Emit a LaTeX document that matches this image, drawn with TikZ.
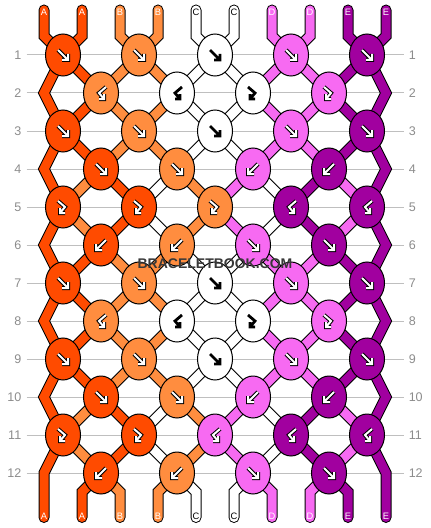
\documentclass[tikz,border=0pt]{standalone}
\usepackage{fontspec}
\setmainfont{Liberation Sans}
\usetikzlibrary{shapes.geometric}

\definecolor{cA}{HTML}{FF4B00}
\definecolor{cB}{HTML}{FF8D3F}
\definecolor{cC}{HTML}{FFFFFF}
\definecolor{cD}{HTML}{F76AF2}
\definecolor{cE}{HTML}{A1009F}

\pgfdeclarelayer{strands}
\pgfsetlayers{strands,main}

\tikzset{
  knot/.style={ellipse, draw=black, line width=0.75pt, minimum width=26.25pt, minimum height=31.5pt, inner sep=0pt},
  rim/.style={draw=black, line width=8.25pt, line cap=round},
  thread/.style={draw=#1, line width=6.75pt, line cap=round},
  rowline/.style={draw=black!25, line width=0.75pt, shorten <=3.75pt, shorten >=3.75pt},
  rownum/.style={text=black!45, font=\fontsize{9.4}{10}\selectfont, inner sep=0pt},
  endlabel/.style={font=\fontsize{7}{8}\selectfont, inner sep=0pt},
  arrowrim/.style={draw=black, line width=3pt, line join=miter},
  arrowink/.style={draw=#1, line width=1.5pt, line join=miter},
  darkink/.style={draw=black, line width=2.1pt, line join=miter},
  arrf/.style={insert path={(-5,-5) -- (5,5) (-1,5) -- (5,5) -- (5,-1)}},
  arrb/.style={insert path={(5,-5) -- (-5,5) (1,5) -- (-5,5) -- (-5,-1)}},
  arrfb/.style={insert path={(-5,-6) -- (2,0) -- (-3,6) (2,6) -- (-3,6) -- (-3,1)}},
  arrbf/.style={insert path={(5,-6) -- (-2,0) -- (3,6) (-2,6) -- (3,6) -- (3,1)}},
}

\def\blackink{black}

% knot: row, index, fill, arrow, ink
\newcommand\putknot[5]{%
  \pgfmathsetmacro\kx{63+76*#2+38*(1-mod(#1,2))}
  \pgfmathsetmacro\ky{55+38*(#1-1)}
  \node[knot, fill=#3] (k#1-#2) at (\kx,\ky) {};
  \edef\thisink{#5}%
  \ifx\thisink\blackink
    \path[darkink, shift={(k#1-#2.center)}] [#4];
  \else
    \path[arrowrim, shift={(k#1-#2.center)}] [#4];
    \path[arrowink=#5, shift={(k#1-#2.center)}] [#4];
  \fi
}

% strands between row #2 and the next one, positions 1..8
\newcommand\strandrow[3]{%
  \pgfmathtruncatemacro\rn{#2+1}
  \foreach \col [count=\p] in {#3} {
    \pgfmathtruncatemacro\ka{mod(#2,2)==1 ? floor(\p/2) : floor((\p-1)/2)}
    \pgfmathtruncatemacro\kb{mod(#2,2)==1 ? floor((\p-1)/2) : floor(\p/2)}
    \draw[#1=\col] (k#2-\ka.center) -- (k\rn-\kb.center);
  }}

\newcommand\strandpass[1]{%
  \foreach \col [count=\p from 0] in {cA,cA,cB,cB,cC,cC,cD,cD,cE,cE} {
    \pgfmathtruncatemacro\kn{floor(\p/2)}
    \draw[#1=\col] (t\p) -- (tk\p) -- (k1-\kn.center);
  }
  \foreach \col [count=\p] in {cA,cB,cB,cC,cC,cD,cD,cE} {
    \pgfmathtruncatemacro\kn{floor((\p-1)/2)}
    \draw[#1=\col] (k12-\kn.center) -- (bk\p) -- (b\p);
  }
  \draw[#1=cA] (k1-0.center) \foreach \r in {1,3,...,11} {-- (k\r-0.center) -- (el\r)} -- (b0);
  \draw[#1=cE] (k1-4.center) \foreach \r in {1,3,...,11} {-- (k\r-4.center) -- (er\r)} -- (b9);
  \foreach \r in {1,2,3,6,7,8,9} {\strandrow{#1}{\r}{cA,cB,cB,cC,cC,cD,cD,cE}}
  \foreach \r in {4,5,10,11} {\strandrow{#1}{\r}{cB,cA,cC,cB,cD,cC,cE,cD}}
}

\begin{document}
\begin{tikzpicture}[x=0.75pt,y=-0.75pt]
\useasboundingbox (0,0) rectangle (430,528);

% strand ends
\foreach \p in {0,...,9} {
  \coordinate (t\p) at (44+38*\p,10);
  \coordinate (tk\p) at (44+38*\p,36);
  \coordinate (bk\p) at (44+38*\p,492);
  \coordinate (b\p) at (44+38*\p,517.5);
}
\foreach \r in {1,3,...,11} {
  \coordinate (el\r) at (44,55+38*\r);
  \coordinate (er\r) at (386,55+38*\r);
}

% row numbers
\foreach \r in {1,...,12} {
  \pgfmathsetmacro\ry{55+38*(\r-1)}
  \node[rownum, anchor=east] (nl\r) at (21.5,\ry) {\r};
  \node[rownum, anchor=west] (nr\r) at (408.5,\ry) {\r};
}

% knots
\foreach \r in {1,3,7,9}
  \foreach \col/\arr/\ink [count=\kn from 0] in {cA/arrf/white,cB/arrf/white,cC/arrf/black,cD/arrf/white,cE/arrf/white}
    {\putknot{\r}{\kn}{\col}{\arr}{\ink}}
\foreach \r in {2,8}
  \foreach \col/\arr/\ink [count=\kn from 0] in {cB/arrbf/white,cC/arrbf/black,cC/arrfb/black,cD/arrfb/white}
    {\putknot{\r}{\kn}{\col}{\arr}{\ink}}
\foreach \r in {4,10}
  \foreach \col/\arr/\ink [count=\kn from 0] in {cA/arrf/white,cB/arrf/white,cD/arrb/white,cE/arrb/white}
    {\putknot{\r}{\kn}{\col}{\arr}{\ink}}
\foreach \col/\arr/\ink [count=\kn from 0] in {cA/arrfb/white,cA/arrfb/white,cB/arrfb/white,cE/arrbf/white,cE/arrbf/white}
  {\putknot{5}{\kn}{\col}{\arr}{\ink}}
\foreach \col/\arr/\ink [count=\kn from 0] in {cA/arrfb/white,cA/arrfb/white,cD/arrbf/white,cE/arrbf/white,cE/arrbf/white}
  {\putknot{11}{\kn}{\col}{\arr}{\ink}}
\foreach \r in {6,12}
  \foreach \col/\arr/\ink [count=\kn from 0] in {cA/arrb/white,cB/arrb/white,cD/arrf/white,cE/arrf/white}
    {\putknot{\r}{\kn}{\col}{\arr}{\ink}}

\begin{pgfonlayer}{strands}
\foreach \r in {1,...,12}
  \draw[rowline] (nl\r.east) -- (nr\r.west);
\strandpass{rim}
\strandpass{thread}
\end{pgfonlayer}

% thread letters
\foreach \lab/\ink [count=\p from 0] in {A/white,A/white,B/white,B/white,C/black,C/black,D/white,D/white,E/white,E/white} {
  \node[endlabel, text=\ink] (lt\p) at (44+38*\p,12.5) {\lab};
  \node[endlabel, text=\ink] (lb\p) at (44+38*\p,516) {\lab};
}

\node[font=\bfseries\fontsize{10.5}{12}\selectfont, text=black!78, inner sep=0pt] (mark) at (215,263.5) {BRACELETBOOK.COM};

\end{tikzpicture}
\end{document}
